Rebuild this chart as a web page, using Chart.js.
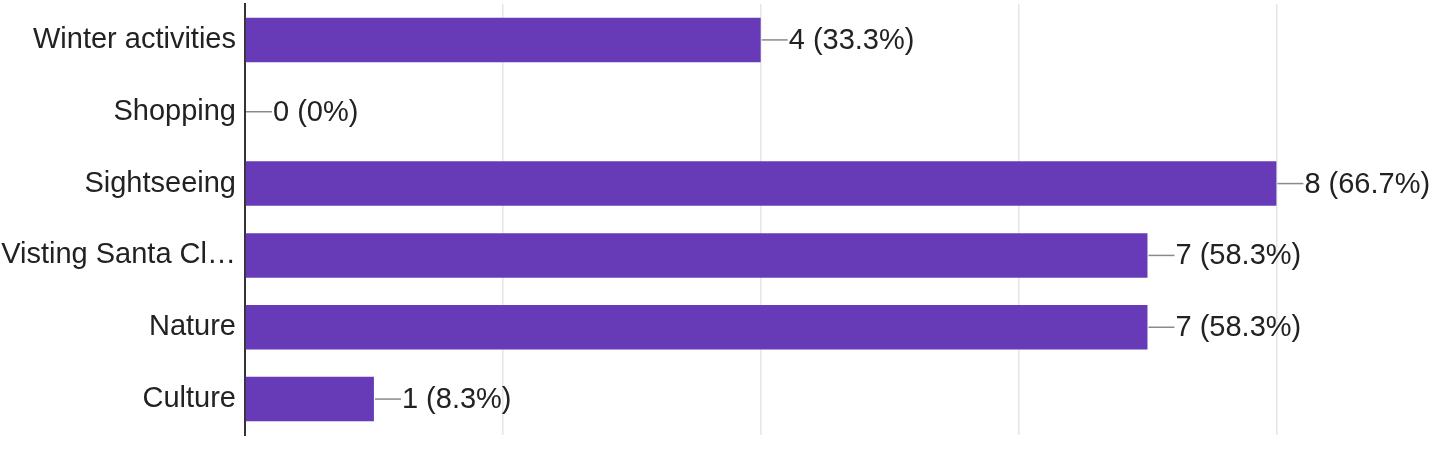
<!DOCTYPE html>
<html>
<head>
<meta charset="utf-8">
<script src="https://cdn.jsdelivr.net/npm/chart.js@4"></script>
<style>
  html, body { margin: 0; padding: 0; background: #fff; }
  #wrap { width: 1444px; height: 460px; position: relative; }
</style>
</head>
<body>
<div id="wrap"><canvas id="chartActividades"></canvas></div>
<script>
// --- datos ---
const categorias = ['Winter activities', 'Shopping', 'Sightseeing', 'Visting Santa Cl\u2026', 'Nature', 'Culture'];
const respuestas = [4, 0, 8, 7, 7, 1];
const porcentajes = ['33.3', '0', '66.7', '58.3', '58.3', '8.3'];
const ejeMax = 9.3;

const fuente = '"Liberation Sans", Arial, sans-serif';

// etiquetas con línea guía al final de cada barra
const etiquetasPlugin = {
    id: 'etiquetas',
    afterDatasetsDraw(chart) {
        const ctx = chart.ctx;
        const meta = chart.getDatasetMeta(0);
        ctx.save();
        ctx.font = '29px ' + fuente;
        ctx.textBaseline = 'middle';
        ctx.textAlign = 'left';
        meta.data.forEach((bar, i) => {
            const x = bar.x;
            const y = bar.y;
            ctx.strokeStyle = '#8a8a8a';
            ctx.lineWidth = 1.5;
            ctx.beginPath();
            ctx.moveTo(x + 1, y);
            ctx.lineTo(x + 27, y);
            ctx.stroke();
            ctx.fillStyle = '#222';
            ctx.fillText(respuestas[i] + ' (' + porcentajes[i] + '%)', x + 28, y + 1);
        });
        ctx.restore();
    }
};

new Chart(document.getElementById('chartActividades').getContext('2d'), {
    type: 'bar',
    data: {
        labels: categorias,
        datasets: [{
            data: respuestas,
            backgroundColor: '#673ab7',
            borderWidth: 0,
            barPercentage: 0.62,
            categoryPercentage: 1.0
        }]
    },
    options: {
        indexAxis: 'y',
        responsive: true,
        maintainAspectRatio: false,
        animation: false,
        layout: { padding: { top: 4, bottom: 25, left: 0, right: 0 } },
        plugins: {
            legend: { display: false },
            tooltip: { enabled: false }
        },
        scales: {
            x: {
                min: 0,
                max: ejeMax,
                ticks: { display: false, stepSize: 2 },
                border: { display: false },
                grid: {
                    drawTicks: false,
                    lineWidth: 1.5,
                    color: (c) => (c.tick && c.tick.value > 0 && c.tick.value % 2 === 0) ? '#e6e6e6' : 'transparent'
                }
            },
            y: {
                afterFit: (scale) => {
                    scale.width = 245;
                    scale.paddingTop = 0;
                    scale.paddingBottom = 0;
                },
                ticks: {
                    padding: 9,
                    color: '#222',
                    font: { family: fuente, size: 29 }
                },
                border: { display: true, color: '#333', width: 2 },
                grid: { drawTicks: false, color: 'transparent' }
            }
        }
    },
    plugins: [etiquetasPlugin]
});
</script>
</body>
</html>
